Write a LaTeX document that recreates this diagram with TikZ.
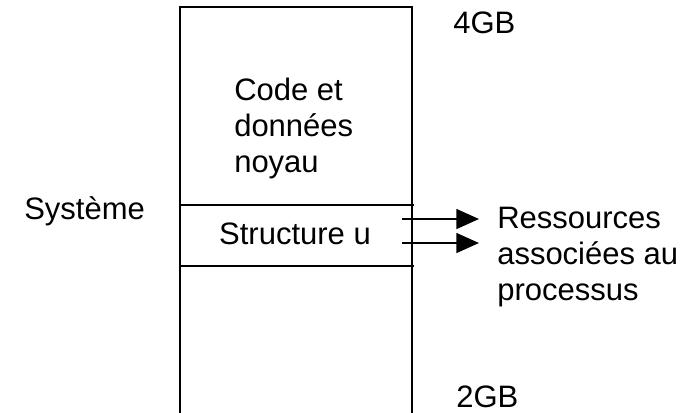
\documentclass[tikz,border=0pt]{standalone}
\usepackage{fontspec}
\setmainfont{Liberation Sans}
\usepackage{tikz}
\usetikzlibrary{arrows.meta,positioning}
\tikzset{>={Triangle[length=17pt,width=15pt]}}
\tikzset{etiquette/.style={inner sep=0pt,font=\fontsize{23.25}{27}\selectfont},
  fleche/.style={->,line width=1.1pt}}

\begin{document}
\begin{tikzpicture}[line cap=butt,line join=miter,x=0.75pt,y=-0.75pt]
\useasboundingbox (0,0) rectangle (691,412);
\clip (0,0) rectangle (691,412);
\draw [line width=2pt] (180,418)-- (180,7)-- (412,7)-- (412,418);
\draw [line width=1.2pt] (180,205)-- (414,205);
\draw [line width=1.2pt] (180,266)-- (414,266);
\node[etiquette,anchor=base west] (gb4) at (453,33) {4GB};
\node[etiquette,anchor=north west,align=left] (code) at (234,78) {Code et\\données\\noyau};
\node[etiquette,anchor=base west] (systeme) at (24,219) {Système};
\node[etiquette,anchor=base] (struct) at (295,244) {Structure u};
\node[etiquette,anchor=north west,align=left] (ress) at (497,207) {Ressources\\associées au\\processus};
\node[etiquette,anchor=base west] (gb2) at (456,407) {2GB};
\coordinate (a1) at (402,219);
\coordinate (a2) at (402,243);
\draw [fleche,shorten >=13.5pt] (a1)-- (a1 -| ress.west);
\draw [fleche,shorten >=13.5pt] (a2)-- (a2 -| ress.west);
\end{tikzpicture}
\end{document}
